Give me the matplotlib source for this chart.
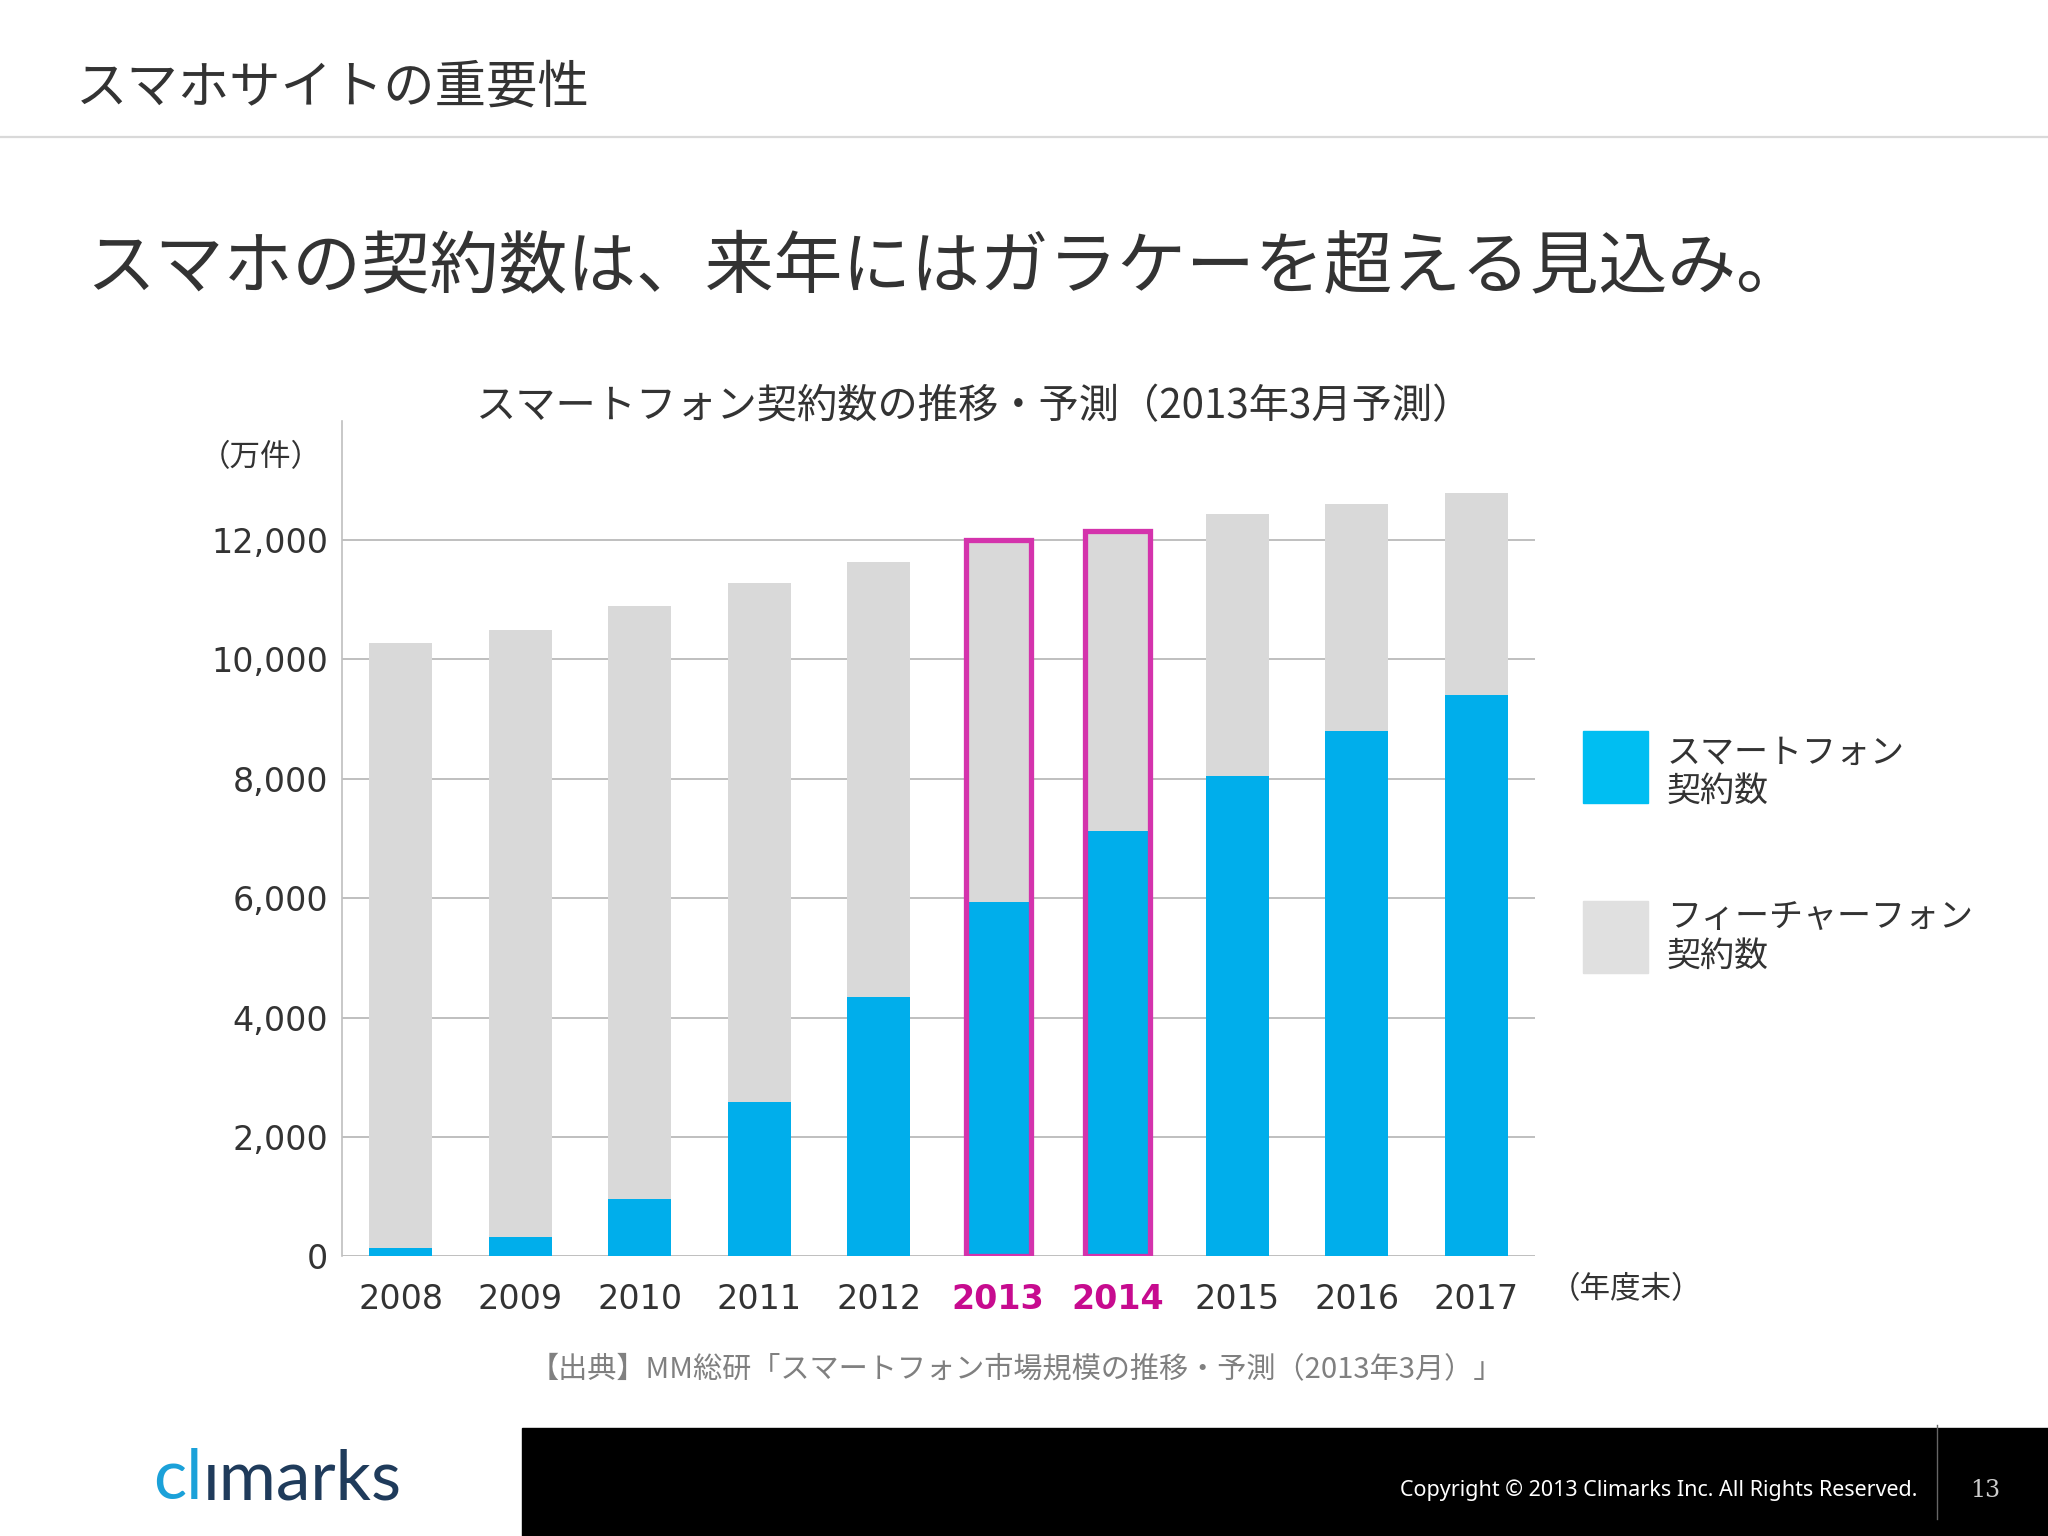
import matplotlib
matplotlib.use("Agg")
import matplotlib.pyplot as plt
from matplotlib.patches import Rectangle
from matplotlib.lines import Line2D
import numpy as np

# ---- data ----
years = ["2008", "2009", "2010", "2011", "2012", "2013", "2014", "2015", "2016", "2017"]
smartphone = [140, 320, 970, 2590, 4340, 5940, 7120, 8050, 8800, 9400]
featurephone = [10130, 10180, 9930, 8690, 7290, 6040, 5010, 4390, 3810, 3380]
highlight_years = ["2013", "2014"]
yticks = [0, 2000, 4000, 6000, 8000, 10000, 12000]

BLUE = "#00AEEB"
GRAY = "#D9D9D9"
MAGENTA = "#D433AC"
MAG_TEXT = "#C70B8F"
TXT = "#333333"
JP = ["Noto Sans CJK JP", "DejaVu Sans"]
NUM = ["DejaVu Sans", "Noto Sans CJK JP"]

W, H = 1568.0, 1176.0  # reference layout coordinates
def fx(x): return x / W
def fy(y): return 1 - y / H

fig = plt.figure(figsize=(20.48, 15.36), dpi=100)
fig.patch.set_facecolor("white")

# header
fig.text(fx(58), fy(67), "スマホサイトの重要性", fontsize=37, family=JP, color=TXT,
         va="center", ha="left")
fig.add_artist(Line2D([0, 1], [fy(105), fy(105)], color="#D9D9D9", lw=1.6,
                      transform=fig.transFigure))
fig.text(fx(66), fy(205), "スマホの契約数は、来年にはガラケーを超える見込み。", fontsize=49.5,
         family=JP, color=TXT, va="center", ha="left")

# chart
ax = fig.add_axes([fx(262), fy(962), fx(1175) - fx(262), fy(322) - fy(962)])
x = np.arange(len(years))
bw = 0.525
ax.bar(x, smartphone, width=bw, color=BLUE, zorder=3)
ax.bar(x, featurephone, width=bw, bottom=smartphone, color=GRAY, zorder=3)
totals = [s + f for s, f in zip(smartphone, featurephone)]
for i, yr in enumerate(years):
    if yr in highlight_years:
        ax.bar(x[i], totals[i] + 20, width=bw + 0.02, fill=False, edgecolor=MAGENTA,
               linewidth=3.8, zorder=4)

ax.set_xlim(-0.49, 9.49)
ax.set_ylim(0, 14000)
ax.set_yticks(yticks)
ax.set_yticklabels([f"{v:,}" for v in yticks], family=NUM, fontsize=24, color=TXT)
ax.set_xticks(x)
ax.set_xticklabels(years, family=NUM, fontsize=24, color=TXT)
for lab, yr in zip(ax.get_xticklabels(), years):
    if yr in highlight_years:
        lab.set_color(MAG_TEXT)
        lab.set_fontweight("bold")
ax.tick_params(axis="both", length=0)
ax.tick_params(axis="y", pad=10)
ax.tick_params(axis="x", pad=19)
ax.grid(axis="y", color="#BFBFBF", lw=1.4, zorder=0)
ax.set_axisbelow(True)
for s in ["top", "right", "bottom"]:
    ax.spines[s].set_visible(False)
ax.spines["left"].set_color("#BFBFBF")
ax.spines["left"].set_linewidth(1.2)
ax.set_facecolor("none")

fig.text(fx(746), fy(311), "スマートフォン契約数の推移・予測（2013年3月予測）", fontsize=29,
         family=JP, color=TXT, ha="center", va="center")
fig.text(fx(200), fy(350), "（万件）", fontsize=22, family=JP, color=TXT,
         ha="center", va="center")
fig.text(fx(1245), fy(987), "（年度末）", fontsize=22, family=JP, color=TXT,
         ha="center", va="center")

# legend
fig.add_artist(Rectangle((fx(1212), fy(615)), fx(1262) - fx(1212), fy(560) - fy(615),
                         transform=fig.transFigure, color="#00BEF2"))
fig.add_artist(Rectangle((fx(1212), fy(745)), fx(1262) - fx(1212), fy(690) - fy(745),
                         transform=fig.transFigure, color="#E0E0E0"))
fig.text(fx(1276), fy(577), "スマートフォン", fontsize=24.5, family=JP, color=TXT,
         ha="left", va="center")
fig.text(fx(1276), fy(606), "契約数", fontsize=24.5, family=JP, color=TXT,
         ha="left", va="center")
fig.text(fx(1276), fy(703), "フィーチャーフォン", fontsize=24.5, family=JP, color=TXT,
         ha="left", va="center")
fig.text(fx(1276), fy(732), "契約数", fontsize=24.5, family=JP, color=TXT,
         ha="left", va="center")

# source
fig.text(fx(778), fy(1048), "【出典】MM総研「スマートフォン市場規模の推移・予測（2013年3月）」",
         fontsize=21, family=JP, color="#808080", ha="center", va="center")

# footer
fig.add_artist(Rectangle((fx(400), 0), 1 - fx(400), fy(1093), transform=fig.transFigure,
                         color="black"))
fig.text(fx(1468), fy(1141), "Copyright © 2013 Climarks Inc. All Rights Reserved.",
         fontsize=15.5, family=["Noto Sans", "DejaVu Sans"], color="white",
         ha="right", va="center")
fig.add_artist(Line2D([fx(1483), fx(1483)], [fy(1163), fy(1091)], color="#666666", lw=1,
                      transform=fig.transFigure))
fig.text(fx(1520), fy(1141), "13", fontsize=17, family=["DejaVu Serif"], color="#CCCCCC",
         ha="center", va="center")

# logo
t1 = fig.text(fx(117), fy(1133), "cl", fontsize=50, family=["Lato", "DejaVu Sans"],
              weight="normal", color="#1BA1D9", ha="left", va="center")
fig.canvas.draw()
bb = t1.get_window_extent()
x2 = bb.x1 / fig.bbox.width
fig.text(x2, fy(1133), "ımarks", fontsize=50, family=["Lato", "DejaVu Sans"],
         weight="normal", color="#1F3B5B", ha="left", va="center")

fig.savefig("out.png", dpi=100)
